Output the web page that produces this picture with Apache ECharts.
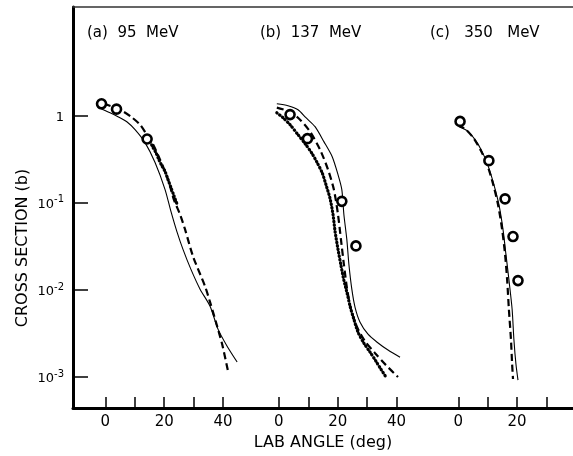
<!DOCTYPE html>
<html><head><meta charset="utf-8">
<script src="https://cdn.jsdelivr.net/npm/echarts@6/dist/echarts.min.js"></script>
<style>html,body{margin:0;padding:0;background:#fff}#c{width:573px;height:456px}</style>
</head><body><div id="c"></div><script>
// ---- data: [lab angle (deg), cross section (b)] ----
const panelTitles = ['(a)  95  MeV', '(b)  137  MeV', '(c)   350   MeV'];
const ticksA = [0, 10, 20, 30, 40];
const ticksB = [0, 10, 20, 30, 40];
const ticksC = [0, 10, 20, 30];
const labelsA = [0, 20, 40];
const labelsB = [0, 20, 40];
const labelsC = [0, 20];
const yTicks = [0.001, 0.01, 0.1, 1];
const yTickLabels = {'0': '{b|1}', '-1': '{b|10}{s|-1}', '-2': '{b|10}{s|-2}', '-3': '{b|10}{s|-3}'};

// (a) 95 MeV
const circlesA = [[-1.3, 1.37], [3.8, 1.19], [14.2, 0.54]];
const dotsA = [[15.2, 0.504], [16.2, 0.431], [17.2, 0.377], [18.2, 0.313], [19.2, 0.267], [20.3, 0.229],
  [21.3, 0.185], [22.3, 0.150], [23.3, 0.121], [24.3, 0.0982]];
const dashedA = [[-0.5, 1.37], [5.0, 1.17], [8.7, 0.975], [11.8, 0.789], [14.1, 0.605], [15.9, 0.491],
  [18.6, 0.313], [21.3, 0.185], [23.3, 0.109], [25.4, 0.0735], [27.1, 0.0495], [29.8, 0.0243],
  [33.9, 0.0110], [35.6, 0.00723], [38.0, 0.00384], [39.7, 0.00239], [41.7, 0.00117]];
const solidA = [[-2.5, 1.24], [1.6, 1.08], [4.3, 0.975], [7.3, 0.853], [10.1, 0.692], [13.5, 0.491],
  [16.9, 0.290], [20.3, 0.142], [22.3, 0.0796], [24.3, 0.0470], [26.4, 0.0292], [29.1, 0.0172],
  [32.2, 0.0102], [35.6, 0.0065], [38.3, 0.00355], [41.4, 0.00226], [44.8, 0.00149]];

// (b) 137 MeV
const circlesB = [[3.8, 1.03], [9.7, 0.545], [21.4, 0.104], [26.2, 0.032]];
const dotsB = [[-0.7, 1.08], [1.4, 0.948], [3.8, 0.789], [6.5, 0.605], [8.9, 0.478], [11.3, 0.367],
  [13.0, 0.290], [14.7, 0.222], [16.0, 0.162], [17.4, 0.112], [18.4, 0.0735], [19.1, 0.0470],
  [20.1, 0.0292], [21.1, 0.0192], [22.1, 0.0129], [23.2, 0.00916], [24.2, 0.0065], [25.5, 0.00461],
  [26.9, 0.00327], [28.9, 0.00245], [31.0, 0.00193], [33.0, 0.00152], [34.7, 0.00123], [36.4, 0.00100]];
const dashedB = [[-0.7, 1.24], [3.8, 1.11], [7.2, 0.899], [10.6, 0.656], [14.0, 0.408], [16.7, 0.241],
  [18.7, 0.142], [20.1, 0.0735], [21.1, 0.0380], [22.1, 0.0197], [23.2, 0.0102], [24.5, 0.0060],
  [26.6, 0.00373], [29.3, 0.00258], [32.7, 0.00188], [36.4, 0.00137], [40.5, 0.00100]];
const solidB = [[-0.7, 1.37], [3.1, 1.30], [6.5, 1.17], [9.2, 0.948], [12.3, 0.748], [15.3, 0.504],
  [18.1, 0.340], [20.1, 0.211], [21.4, 0.142], [22.1, 0.0735], [23.1, 0.0380], [23.8, 0.0197],
  [24.8, 0.0102], [25.9, 0.00632], [27.6, 0.00426], [30.3, 0.00310], [33.4, 0.00251], [37.1, 0.00204],
  [41.2, 0.00169]];

// (c) 350 MeV
const circlesC = [[0.6, 0.86], [10.4, 0.305], [15.9, 0.111], [18.6, 0.041], [20.3, 0.0128]];
const dashedC = [[-0.1, 0.789], [2.6, 0.692], [5.3, 0.546], [7.7, 0.397], [9.8, 0.275], [11.8, 0.166],
  [13.5, 0.0957], [14.9, 0.0495], [15.9, 0.0256], [16.6, 0.0132], [17.2, 0.0060], [17.9, 0.00272],
  [18.3, 0.00141], [18.6, 0.00095]];
const solidC = [[0.2, 0.748], [3.0, 0.673], [5.7, 0.531], [8.1, 0.387], [10.1, 0.267], [12.1, 0.162],
  [13.8, 0.0957], [15.2, 0.0495], [16.2, 0.0256], [17.2, 0.0132], [18.3, 0.0060], [18.9, 0.00272],
  [19.6, 0.00141], [20.3, 0.00092]];

// ---- layout: each panel shares one x axis, shifted by an offset ----
const offA = 0, offB = 59, offC = 120;
const shift = (arr, off) => arr.map(p => [p[0] + off, p[1]]);
const toLocal = v => (v >= 110 ? v - offC : v >= 50 ? v - offB : v - offA);

const tickVals = [].concat(ticksA.map(t => t + offA), ticksB.map(t => t + offB), ticksC.map(t => t + offC));
const labelVals = [].concat(labelsA.map(t => t + offA), labelsB.map(t => t + offB), labelsC.map(t => t + offC));

const FONT = 'DejaVu Sans';
function solid(d) { return {type: 'line', data: d, showSymbol: false, smooth: 0.25, lineStyle: {color: '#000', width: 1.1}, z: 3}; }
function dashed(d) { return {type: 'line', data: d, showSymbol: false, smooth: 0.25, lineStyle: {color: '#000', width: 2.2, type: [7, 4]}, z: 4}; }
function dots(d) { return {type: 'line', data: d, showSymbol: false, smooth: 0.25, lineStyle: {color: '#000', width: 3.2, type: [0.5, 3], cap: 'round'}, z: 5}; }
function circles(d) { return {type: 'scatter', data: d, symbol: 'circle', symbolSize: 9, itemStyle: {color: '#fff', borderColor: '#000', borderWidth: 2.6, opacity: 1}, z: 10}; }

const option = {
  animation: false,
  backgroundColor: '#fff',
  textStyle: {fontFamily: FONT},
  title: [
    {text: panelTitles[0], left: 87, top: 26},
    {text: panelTitles[1], left: 260, top: 26},
    {text: panelTitles[2], left: 430, top: 26}
  ].map(t => Object.assign(t, {textStyle: {fontFamily: FONT, fontSize: 15, fontWeight: 'normal', color: '#000'}, padding: 0})),
  grid: {left: 73, right: 0, top: 7, bottom: 47, containLabel: false},
  xAxis: [{
    type: 'value', min: -11, max: 159, position: 'bottom',
    name: 'LAB ANGLE (deg)', nameLocation: 'middle', nameGap: 27,
    nameTextStyle: {fontFamily: FONT, fontSize: 16, color: '#000'},
    axisLine: {show: true, onZero: false, lineStyle: {color: '#000', width: 3}},
    axisTick: {show: true, inside: true, length: 11, lineStyle: {color: '#000', width: 1.5}, customValues: tickVals},
    axisLabel: {show: true, margin: 7, color: '#000', fontFamily: FONT, fontSize: 15, customValues: labelVals,
      formatter: v => String(Math.round(toLocal(v)))},
    splitLine: {show: false}
  }, {
    type: 'value', min: -11, max: 159, position: 'top',
    axisLine: {show: true, onZero: false, lineStyle: {color: '#333', width: 1.5}},
    axisTick: {show: false}, axisLabel: {show: false}, splitLine: {show: false}
  }],
  yAxis: {
    type: 'log', logBase: 10, min: 4.41e-4, max: 17.7,
    axisLine: {show: true, onZero: false, lineStyle: {color: '#000', width: 3}},
    axisTick: {show: true, inside: true, length: 15, lineStyle: {color: '#000', width: 1.5}, customValues: yTicks},
    axisLabel: {show: true, margin: 9, color: '#000', fontFamily: FONT, customValues: yTicks,
      formatter: v => { const e = Math.round(Math.log10(v)); return yTickLabels[String(e)] || ''; },
      rich: {
        b: {fontFamily: FONT, fontSize: 13, lineHeight: 16, verticalAlign: 'bottom', color: '#000'},
        s: {fontFamily: FONT, fontSize: 10, lineHeight: 10, verticalAlign: 'top', color: '#000'}
      }},
    splitLine: {show: false}, minorTick: {show: false}
  },
  graphic: [{
    type: 'text', x: 23, y: 248, rotation: Math.PI / 2,
    style: {text: 'CROSS SECTION (b)', fontFamily: FONT, fontSize: 16, fill: '#000', align: 'center', verticalAlign: 'middle'}
  }],
  series: [
    solid(shift(solidA, offA)), dashed(shift(dashedA, offA)), dots(shift(dotsA, offA)), circles(shift(circlesA, offA)),
    solid(shift(solidB, offB)), dashed(shift(dashedB, offB)), dots(shift(dotsB, offB)), circles(shift(circlesB, offB)),
    solid(shift(solidC, offC)), dashed(shift(dashedC, offC)), circles(shift(circlesC, offC))
  ]
};
const chart = echarts.init(document.getElementById('c'), null, {renderer: 'canvas'});
chart.setOption(option);
</script></body></html>
